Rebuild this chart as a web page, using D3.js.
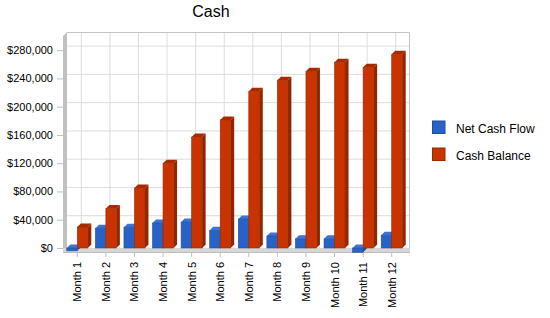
<!DOCTYPE html>
<html>
<head>
<meta charset="utf-8">
<script src="https://cdn.jsdelivr.net/npm/d3@7"></script>
<style>
  body { margin: 0; background: #fff; }
  text { font-family: "Liberation Sans", Arial, sans-serif; }
</style>
</head>
<body>
<div id="chart"></div>
<script>
// Data
const months = ["Month 1", "Month 2", "Month 3", "Month 4", "Month 5", "Month 6",
                "Month 7", "Month 8", "Month 9", "Month 10", "Month 11", "Month 12"];
const netCashFlow = [-4000, 28000, 29500, 35300, 36700, 25000, 41000, 17000, 13000, 13000, -6000, 18000];
const cashBalance = [29700, 56000, 84800, 120100, 156900, 181300, 221900, 237500, 250200, 262900, 255800, 274200];
const yTicks = [0, 40000, 80000, 120000, 160000, 200000, 240000, 280000];
const seriesNames = ["Net Cash Flow", "Cash Balance"];

const width = 550, height = 318;
const depth = 4;      // wall depth offset
const barDepth = 3.5; // bar side depth

const colors = [
  {front: "#2862c6", side: "#1c4a9c", top: "#3a74d4", stroke: "#1d4d9e"},
  {front: "#c83300", side: "#932600", top: "#a82b00", stroke: "#9a2800"}
];

const svg = d3.select("#chart")
  .append("svg")
  .attr("width", width)
  .attr("height", height)
  .attr("viewBox", [0, 0, width, height]);

const x = d3.scaleBand(months, [63, 406]);
const y = d3.scaleLinear([0, 300000], [248, 36]);
const barW = 10.5;

const x0 = x.range()[0], x1 = x.range()[1];
const yTop = y(300000), yZero = y(0);

// back wall
svg.append("rect")
  .attr("x", x0 + depth).attr("y", yTop - depth)
  .attr("width", x1 - x0).attr("height", yZero - yTop)
  .attr("fill", "#fff");

// grid on back wall
svg.append("g")
  .attr("stroke", "#dcdcdc")
  .selectAll("line")
  .data(yTicks.slice(1))
  .join("line")
  .attr("x1", x0 + depth).attr("x2", x1 + depth)
  .attr("y1", d => y(d) - depth).attr("y2", d => y(d) - depth);

svg.append("g")
  .attr("stroke", "#dcdcdc")
  .selectAll("line")
  .data(months)
  .join("line")
  .attr("x1", d => x(d) + x.bandwidth() / 2 + depth)
  .attr("x2", d => x(d) + x.bandwidth() / 2 + depth)
  .attr("y1", yTop - depth).attr("y2", yZero - depth);

// wall border (top and right)
svg.append("path")
  .attr("fill", "none")
  .attr("stroke", "#c4c4c4")
  .attr("d", `M${x0 + depth},${yTop - depth + 0.5}H${x1 + depth - 0.5}V${yZero}`);

// left wall
svg.append("path")
  .attr("fill", "#c0c0c0")
  .attr("d", `M${x0},${yTop}L${x0 + depth},${yTop - depth}V${yZero + 4}L${x0},${yZero + 4}Z`);

// floor slab
svg.append("rect")
  .attr("x", x0).attr("y", yZero)
  .attr("width", x1 - x0 + depth).attr("height", 4.5)
  .attr("fill", "#d6d6d6");
svg.append("line")
  .attr("x1", x0).attr("x2", x1 + depth)
  .attr("y1", yZero + 4.5).attr("y2", yZero + 4.5)
  .attr("stroke", "#bdbdbd");

// y axis ticks and labels
const yAxis = svg.append("g");
yAxis.selectAll("line")
  .data(yTicks)
  .join("line")
  .attr("x1", 57).attr("x2", x0)
  .attr("y1", d => y(d) + 0.5).attr("y2", d => y(d) + 0.5)
  .attr("stroke", "#c0c0c0");
yAxis.selectAll("text")
  .data(yTicks)
  .join("text")
  .attr("x", 53)
  .attr("y", d => y(d) + 4)
  .attr("text-anchor", "end")
  .attr("font-size", 11)
  .attr("fill", "#000")
  .text(d => "$" + d3.format(",")(d));

// x axis ticks and labels
const xAxis = svg.append("g");
xAxis.selectAll("line")
  .data(months)
  .join("line")
  .attr("x1", d => x(d) + x.bandwidth() / 2).attr("x2", d => x(d) + x.bandwidth() / 2)
  .attr("y1", yZero + 5).attr("y2", yZero + 9)
  .attr("stroke", "#c0c0c0");
xAxis.selectAll("text")
  .data(months)
  .join("text")
  .attr("transform", d => `translate(${x(d) + x.bandwidth() / 2 + 4},262) rotate(-90)`)
  .attr("text-anchor", "end")
  .attr("font-size", 11)
  .attr("fill", "#000")
  .text(d => d);

// 3D bars
const bars = [];
months.forEach((m, i) => {
  const c = x(m) + x.bandwidth() / 2;
  bars.push({s: 0, x: c - barW, v: netCashFlow[i]});
  bars.push({s: 1, x: c, v: cashBalance[i]});
});

const barG = svg.append("g")
  .selectAll("g")
  .data(bars)
  .join("g");

barG.each(function(d) {
  const g = d3.select(this);
  const col = colors[d.s];
  const yt = Math.min(y(d.v), yZero);
  const yb = Math.max(y(d.v), yZero);
  const xl = d.x, xr = d.x + barW;
  // side
  g.append("path")
    .attr("fill", col.side)
    .attr("d", `M${xr},${yt}L${xr + barDepth},${yt - barDepth}V${yb - barDepth}L${xr},${yb}Z`);
  // top
  g.append("path")
    .attr("fill", col.top)
    .attr("d", `M${xl},${yt}L${xl + barDepth},${yt - barDepth}H${xr + barDepth}L${xr},${yt}Z`);
  // front
  g.append("rect")
    .attr("x", xl).attr("y", yt)
    .attr("width", barW).attr("height", Math.max(yb - yt, 0.5))
    .attr("fill", col.front)
    .attr("stroke", col.stroke)
    .attr("stroke-width", 0.6);
});

// title
svg.append("text")
  .attr("x", 211).attr("y", 17)
  .attr("text-anchor", "middle")
  .attr("font-size", 16)
  .attr("fill", "#000")
  .text("Cash");

// legend
const legend = svg.append("g")
  .selectAll("g")
  .data(seriesNames)
  .join("g")
  .attr("transform", (d, i) => `translate(432.5,${121 + i * 27})`);
legend.append("rect")
  .attr("width", 12.5).attr("height", 12.5)
  .attr("fill", (d, i) => colors[i].front)
  .attr("stroke", (d, i) => colors[i].stroke);
legend.append("text")
  .attr("x", 23.5).attr("y", 11.5)
  .attr("font-size", 12)
  .attr("fill", "#000")
  .text(d => d);
</script>
</body>
</html>
